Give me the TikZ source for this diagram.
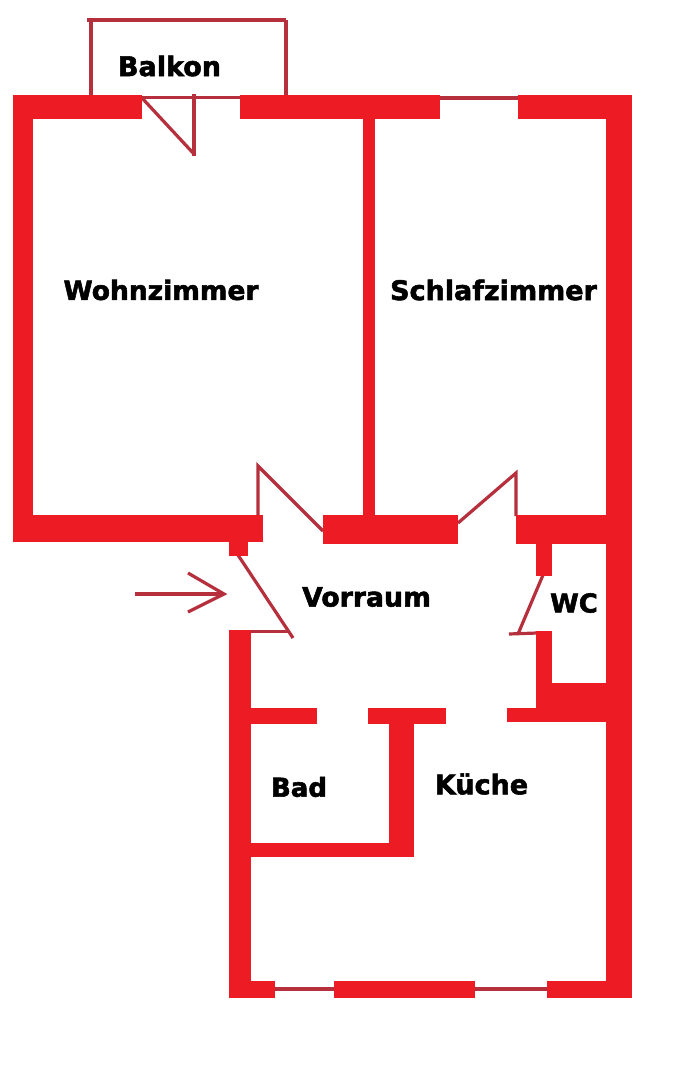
\documentclass[tikz,border=0pt]{standalone}
\usepackage{fontspec}
\setmainfont{DejaVu Sans}[BoldFeatures={FakeBold=2}]
\definecolor{wallred}{HTML}{ED1C24}
\definecolor{thinred}{HTML}{B5303C}
\tikzset{
  wall/.style={fill=wallred,draw=none},
  thin line/.style={draw=thinred,line width=3.2pt,line cap=butt,line join=miter},
  room/.style={text=black,inner sep=0pt,font=\bfseries\fontsize{#1}{#1}\selectfont},
}
\begin{document}
\begin{tikzpicture}[x=1pt,y=-1pt]
\useasboundingbox[fill=white] (0,0) rectangle (676,1080);
% thin lines below walls
\draw[thin line] (87,20) -- (286,20) (91,20) -- (91,96) (286,20) -- (286,96);
\draw[thin line] (142,97.5) -- (240,97.5);
\draw[thin line] (142,98) -- (194,154);
\draw[thin line] (194,94) -- (194,156);
\draw[thin line] (440,98) -- (518,98);
\draw[thin line] (258,516) -- (258,466) -- (323,531);
\draw[thin line] (516,516) -- (516,473) -- (458,523);
\draw[thin line] (238,555) -- (293,638);
\draw[thin line] (251,631.5) -- (290,631.5);
\draw[thin line] (543,575) -- (518,634);
\draw[thin line] (509,634) -- (537,633);
\draw[thin line] (275,989) -- (334,989) (475,989) -- (547,989);
% walls
\fill[wall] (13,95) rectangle (142,119);
\fill[wall] (13,95) rectangle (33,542);
\fill[wall] (13,515) rectangle (263,542);
\fill[wall] (229,542) rectangle (248,556);
\fill[wall] (240,95) rectangle (440,119);
\fill[wall] (518,95) rectangle (632,119);
\fill[wall] (606,95) rectangle (632,998);
\fill[wall] (363,119) rectangle (375,516);
\fill[wall] (323,515) rectangle (458,544);
\fill[wall] (516,515) rectangle (606,544);
\fill[wall] (536,544) rectangle (552,576);
\fill[wall] (536,631) rectangle (552,722);
\fill[wall] (536,683) rectangle (606,722);
\fill[wall] (507,708) rectangle (606,722);
\fill[wall] (229,630) rectangle (251,998);
\fill[wall] (251,708) rectangle (317,724);
\fill[wall] (368,708) rectangle (446,724);
\fill[wall] (389,724) rectangle (414,857);
\fill[wall] (251,843) rectangle (414,857);
\fill[wall] (229,981) rectangle (275,998);
\fill[wall] (334,981) rectangle (475,998);
\fill[wall] (547,981) rectangle (632,998);
% entry arrow
\coordinate (arrowstart) at (135,594);
\coordinate (arrowtip) at (224,594);
\draw[thin line] (arrowstart) -- (arrowtip);
\draw[thin line] (188,573) -- (arrowtip) -- (188,612);
% labels
\node[room=27pt] (balkon) at (169.5,66) {Balkon};
\node[room=26.5pt] (wohn) at (161,290) {Wohnzimmer};
\node[room=27pt] (schlaf) at (493.5,290) {Schlafzimmer};
\node[room=26.7pt] (vorraum) at (366.5,597) {Vorraum};
\node[room=26pt] (wc) at (574,603) {WC};
\node[room=26pt] (bad) at (299,787) {Bad};
\node[room=27pt] (kueche) at (481.5,784) {Küche};
\end{tikzpicture}
\end{document}
